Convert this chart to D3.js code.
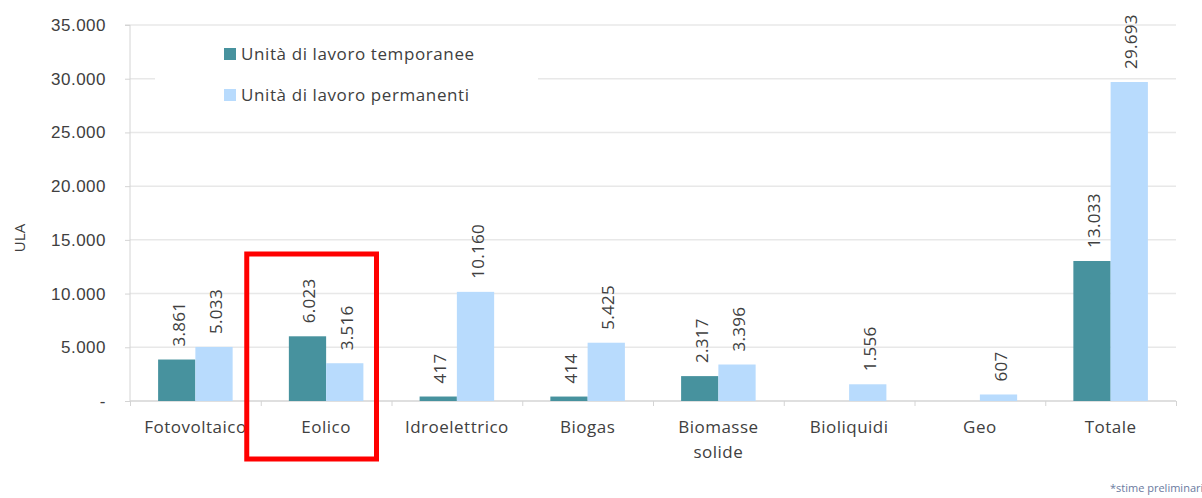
<!DOCTYPE html>
<html>
<head>
<meta charset="utf-8">
<script src="https://cdn.jsdelivr.net/npm/d3@7"></script>
<style>
  body { margin: 0; background: #fff; }
  svg { font-family: "Open Sans", Lato, sans-serif; }
  .axis path, .axis line { stroke: #d4d4d4; }
  .axis text { fill: #404040; font-size: 17px; letter-spacing: 0.5px; }
  .grid line { stroke: #e8e8e8; stroke-width: 1.5; }
  .val { fill: #404040; font-size: 17px; letter-spacing: 0.3px; }
</style>
</head>
<body>
<svg width="1202" height="498"></svg>
<script>
const categories = ["Fotovoltaico", "Eolico", "Idroelettrico", "Biogas", "Biomasse solide", "Bioliquidi", "Geo", "Totale"];
const seriesNames = ["Unità di lavoro temporanee", "Unità di lavoro permanenti"];
const temporanee = [3861, 6023, 417, 414, 2317, null, null, 13033];
const permanenti = [5033, 3516, 10160, 5425, 3396, 1556, 607, 29693];
const yTicks = [0, 5000, 10000, 15000, 20000, 25000, 30000, 35000];
const colors = ["#47929e", "#b8dbfd"];

const svg = d3.select("svg");
const width = +svg.attr("width");
const height = +svg.attr("height");
const margin = { left: 130, right: 26, top: 25, bottom: 97 };
const inner = {
  width: width - margin.left - margin.right,
  height: height - margin.top - margin.bottom,
};

const it = d3.formatLocale({ decimal: ",", thousands: ".", grouping: [3], currency: ["€", ""] });
const fmt = (v) => (v === 0 ? "-" : it.format(",d")(v));

const rows = categories.map((c, i) => ({ cat: c, values: [temporanee[i], permanenti[i]] }));

const x0 = d3.scaleBand().domain(categories).range([0, inner.width]).paddingInner(0.43).paddingOuter(0.215);
const x1 = d3.scaleBand().domain([0, 1]).range([0, x0.bandwidth()]);
const xEdge = d3.scaleLinear().domain([0, categories.length]).range([0, inner.width]);
const y = d3.scaleLinear().domain([0, 35000]).range([inner.height, 0]);

const g = svg.append("g").attr("transform", `translate(${margin.left},${margin.top})`);

// gridlines
g.append("g")
  .attr("class", "grid")
  .selectAll("line")
  .data(yTicks.slice(1))
  .join("line")
  .attr("x1", 0)
  .attr("x2", inner.width)
  .attr("y1", (d) => y(d))
  .attr("y2", (d) => y(d));

// y axis
const yAxisG = g.append("g")
  .attr("class", "axis")
  .call(d3.axisLeft(y).tickValues(yTicks).tickSize(5).tickPadding(19).tickFormat(fmt));
yAxisG.select(".domain").attr("d", `M-5,${y(35000)}H0V${inner.height}`);

svg.append("text")
  .attr("transform", `translate(25,${margin.top + inner.height / 2 + 25}) rotate(-90)`)
  .attr("text-anchor", "middle")
  .attr("fill", "#404040")
  .style("font-size", "15px")
  .text("ULA");

// x axis: boundary ticks
const xAxisG = g.append("g")
  .attr("class", "axis")
  .attr("transform", `translate(0,${inner.height})`)
  .call(d3.axisBottom(xEdge).tickValues(d3.range(categories.length + 1)).tickSize(5).tickFormat(""));
xAxisG.select(".domain").attr("d", `M0,0H${inner.width}`).attr("stroke-width", 1.5);

// category labels
const catG = g.append("g")
  .attr("class", "axis")
  .attr("transform", `translate(0,${inner.height})`);
catG.selectAll("text")
  .data(categories)
  .join("text")
  .attr("y", 32)
  .attr("text-anchor", "middle")
  .each(function (d) {
    const words = d === "Biomasse solide" ? ["Biomasse", "solide"] : [d];
    d3.select(this).selectAll("tspan")
      .data(words)
      .join("tspan")
      .attr("x", x0(d) + x0.bandwidth() / 2)
      .attr("dy", (w, i) => (i === 0 ? 0 : 25))
      .text((w) => w);
  });

// bars
const groups = g.append("g")
  .selectAll("g")
  .data(rows)
  .join("g")
  .attr("transform", (d) => `translate(${x0(d.cat)},0)`);

groups.selectAll("rect")
  .data((d) => d.values.map((v, i) => ({ i, v })).filter((e) => e.v != null))
  .join("rect")
  .attr("x", (d) => x1(d.i))
  .attr("width", x1.bandwidth())
  .attr("y", (d) => y(d.v))
  .attr("height", (d) => inner.height - y(d.v))
  .attr("fill", (d) => colors[d.i]);

groups.selectAll("text")
  .data((d) => d.values.map((v, i) => ({ i, v })).filter((e) => e.v != null))
  .join("text")
  .attr("class", "val")
  .attr("transform", (d) => `translate(${x1(d.i) + x1.bandwidth() / 2 + 8},${y(d.v) - 13}) rotate(-90)`)
  .text((d) => fmt(d.v));

// legend
const legend = svg.append("g").attr("transform", "translate(155,30)");
legend.append("rect").attr("width", 383).attr("height", 98).attr("fill", "#fff");
seriesNames.forEach((name, i) => {
  const row = legend.append("g").attr("transform", `translate(69,${18 + i * 41})`);
  row.append("rect").attr("width", 12).attr("height", 12).attr("fill", colors[i]);
  row.append("text")
    .attr("x", 17)
    .attr("y", 12)
    .attr("fill", "#404040")
    .style("font-size", "17px")
    .style("letter-spacing", "0.6px")
    .text(name);
});

// highlight box around Eolico
svg.append("rect")
  .attr("x", margin.left + xEdge(1) - 14)
  .attr("y", 254)
  .attr("width", xEdge(2) - xEdge(1) - 1)
  .attr("height", 205)
  .attr("fill", "none")
  .attr("stroke", "#f00")
  .attr("stroke-width", 5);

// footnote
svg.append("text")
  .attr("x", 1110)
  .attr("y", 492)
  .attr("fill", "#6a7aa0")
  .style("font-size", "11px")
  .text("*stime preliminari");
</script>
</body>
</html>
